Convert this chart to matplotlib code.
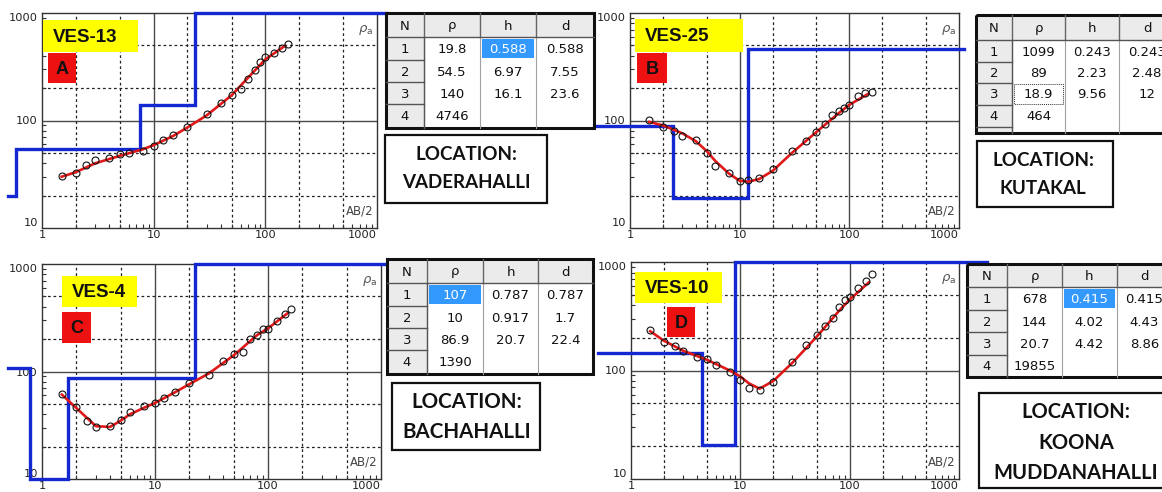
import numpy as np
import matplotlib
matplotlib.use('Agg')
import matplotlib.pyplot as plt
from matplotlib.patches import Rectangle
from matplotlib.ticker import LogLocator, NullFormatter

# ---- observed apparent resistivity (AB/2 in m, rho_a in ohm-m) ----
ab2_obs = [1.5, 2, 2.5, 3, 4, 5, 6, 8, 10, 12, 15, 20, 30, 40, 50, 60, 70, 80, 90, 100, 120, 140, 160]

rho_obs_a = [30.5, 32.8, 38.5, 42.6, 45, 48.9, 49.5, 52.5, 58, 66, 73.8, 86.5, 115.5, 144.7,
             173, 196, 244, 298, 350, 390, 428, 468, 510]
rho_obs_b = [100.7, 87, 79.5, 71, 66, 49.5, 38, 32.8, 27.4, 28.2, 29.4, 35.3, 52.5, 64.7,
             78, 93, 112, 122.5, 132, 140, 170, 179, 186]
rho_obs_c = [61.6, 46.4, 35, 30.2, 30.8, 35.6, 41.6, 47.3, 50.8, 56.5, 65, 78, 93, 125.6,
             146, 153, 200, 219, 247, 250, 295, 341, 379]
rho_obs_d = [234, 183, 168, 152, 133, 129, 113, 96, 82.6, 68.7, 66.7, 78.3, 120, 170,
             212, 259, 307, 383, 444, 478, 575, 667, 783]

# ---- fitted curves ----
ab2_fit_a = [1.5, 2, 3, 5, 8, 10, 15, 20, 30, 50, 80, 100, 150]
rho_fit_a = [30, 33, 40, 47, 54, 59, 72, 86, 112, 172, 290, 370, 495]
ab2_fit_b = [1.5, 2, 3, 4, 5, 6, 8, 10, 12, 15, 20, 30, 50, 80, 100, 150]
rho_fit_b = [97, 90, 76, 64, 52, 42, 32, 27.5, 27, 28.5, 34, 50, 78, 117, 140, 178]
ab2_fit_c = [1.5, 2, 2.5, 3, 4, 5, 6, 8, 10, 15, 20, 30, 50, 80, 100, 150]
rho_fit_c = [61, 46, 37, 31, 30.5, 35, 40, 46, 51, 64, 76, 96, 142, 218, 252, 350]
ab2_fit_d = [1.5, 2, 3, 5, 8, 10, 12, 15, 20, 30, 50, 80, 100, 150]
rho_fit_d = [230, 188, 152, 125, 100, 88, 76, 68, 80, 118, 205, 355, 450, 650]

# ---- layer models (rho, thickness h, depth d) ----
rho_a = [19.8, 54.5, 140, 4746]
h_a = [0.588, 6.97, 16.1]
d_a = [0.588, 7.55, 23.6]
rho_b = [1099, 89, 18.9, 464]
h_b = [0.243, 2.23, 9.56]
d_b = [0.243, 2.48, 12]
rho_c = [107, 10, 86.9, 1390]
h_c = [0.787, 0.917, 20.7]
d_c = [0.787, 1.7, 22.4]
rho_d = [678, 144, 20.7, 19855]
h_d = [0.415, 4.02, 4.42]
d_d = [0.415, 4.43, 8.86]

ves_names = ['VES-13', 'VES-25', 'VES-4', 'VES-10']
panel_letters = ['A', 'B', 'C', 'D']
locations = [['LOCATION:', 'VADERAHALLI'], ['LOCATION:', 'KUTAKAL'],
             ['LOCATION:', 'BACHAHALLI'], ['LOCATION:', 'KOONA', 'MUDDANAHALLI']]

W, H = 1162, 492
fig = plt.figure(figsize=(W / 100, H / 100), dpi=100)
fig.patch.set_facecolor('white')


def frac(x0, y0, x1, y1):
    return [x0 / W, 1 - y1 / H, (x1 - x0) / W, (y1 - y0) / H]


BLUE = '#1428d2'
RED = '#e01818'


def draw_panel(ax, obs, fx, fy, rho, d, x_end):
    ax.set_xscale('log')
    ax.set_yscale('log')
    ax.set_xlim(1, 1000)
    ax.set_ylim(10, 1000)
    for v in [10, 100]:
        ax.axvline(v, color='#4a4a4a', lw=1, zorder=1)
    ax.axhline(100, color='#4a4a4a', lw=1, zorder=1)
    for v in [2, 5, 20, 50, 200, 500]:
        ax.axvline(v, color='#222222', lw=0.9, ls=(0, (2.2, 2.2)), zorder=1)
    for v in [20, 50, 200, 500]:
        ax.axhline(v, color='#222222', lw=0.9, ls=(0, (2.2, 2.2)), zorder=1)

    # layered model as a step line
    bounds = [0.5] + [z for z in d if z > 0.5] + [x_end]
    vals = [rho[np.searchsorted(d, b, side='right')] for b in bounds[:-1]]
    xs = np.repeat(bounds, 2)[1:-1]
    ys = np.repeat(np.clip(vals, 10, 1000), 2)
    ax.plot(xs, ys, color=BLUE, lw=2.4, clip_on=False, zorder=3, solid_joinstyle='miter')

    ax.plot(fx, fy, color=RED, lw=1.9, zorder=4)
    ax.plot(ab2_obs, obs, 'o', mfc='none', mec='#111111', ms=5, mew=0.8, zorder=5)

    ax.set_xticks([1, 10, 100, 1000])
    ax.set_xticklabels(['1', '10', '100', '1000'])
    ax.set_yticks([10, 100, 1000])
    ax.set_yticklabels(['10', '100', '1000'])
    ax.xaxis.set_minor_locator(LogLocator(base=10, subs=range(2, 10)))
    ax.yaxis.set_minor_locator(LogLocator(base=10, subs=range(2, 10)))
    ax.xaxis.set_minor_formatter(NullFormatter())
    ax.yaxis.set_minor_formatter(NullFormatter())
    ax.tick_params(which='major', length=0, labelsize=8.2, labelcolor='#222222', pad=3)
    ax.tick_params(axis='x', which='major', pad=1.5)
    ax.tick_params(which='minor', direction='in', length=3, width=0.8, color='#333333')
    ax.get_xticklabels()[-1].set_ha('right')
    ax.get_yticklabels()[0].set_va('bottom')
    ax.get_yticklabels()[-1].set_va('top')
    for s in ax.spines.values():
        s.set_color('#333333')
        s.set_linewidth(1)
    ax.text(0.99, 0.955, r'$\rho_{\mathrm{a}}$', transform=ax.transAxes, ha='right', va='top',
            fontsize=9.5, color='#555555')
    ax.text(0.99, 0.05, 'AB/2', transform=ax.transAxes, ha='right', va='bottom',
            fontsize=8.5, color='#444444')


panels = [
    (frac(42, 13, 377, 228), rho_obs_a, ab2_fit_a, rho_fit_a, rho_a, d_a, 1230),
    (frac(630, 13, 959, 228), rho_obs_b, ab2_fit_b, rho_fit_b, rho_b, d_b, 1100),
    (frac(42, 264, 381, 479), rho_obs_c, ab2_fit_c, rho_fit_c, rho_c, d_c, 1100),
    (frac(631, 262, 959, 479), rho_obs_d, ab2_fit_d, rho_fit_d, rho_d, d_d, 1800),
]
for rect, obs, fx, fy, rho, d, xe in panels:
    ax = fig.add_axes(rect)
    draw_panel(ax, obs, fx, fy, rho, d, xe)

# ---- overlay in pixel coordinates ----
ov = fig.add_axes([0, 0, 1, 1], zorder=10)
ov.set_xlim(0, W)
ov.set_ylim(H, 0)
ov.axis('off')
ov.patch.set_alpha(0)

ves_boxes = [(43, 20, 138, 52), (635, 19, 743, 52), (62, 276, 137, 307), (635, 272, 722, 303)]
letter_boxes = [(48, 53, 76, 83), (637, 53, 667, 83), (62, 312, 91, 343), (667, 307, 695, 337)]
for (x0, y0, x1, y1), name in zip(ves_boxes, ves_names):
    ov.add_patch(Rectangle((x0, y0), x1 - x0, y1 - y0, fc='#ffff00', ec='none'))
    ov.text(x0 + 10, (y0 + y1) / 2 + 1, name, ha='left', va='center', fontsize=13.5,
            fontweight='bold', family='Liberation Sans', color='#111111')
for (x0, y0, x1, y1), let in zip(letter_boxes, panel_letters):
    ov.add_patch(Rectangle((x0, y0), x1 - x0, y1 - y0, fc='#ee1111', ec='none'))
    ov.text((x0 + x1) / 2, (y0 + y1) / 2 + 1, let, ha='center', va='center', fontsize=13,
            fontweight='bold', family='Liberation Sans', color='#111111')


def draw_table(cols, rows, rho, h, d, hl=None, focus=None):
    x0, x1 = cols[0], cols[-1]
    y0, y1 = rows[0], rows[-1]
    ov.add_patch(Rectangle((x0, y0), x1 - x0, y1 - y0, fc='white', ec='none'))
    ov.add_patch(Rectangle((x0, y0), x1 - x0, rows[1] - y0, fc='#ebebeb', ec='none'))
    ov.add_patch(Rectangle((x0, rows[1]), cols[1] - x0, y1 - rows[1], fc='#ebebeb', ec='none'))
    for c in cols[1:-1]:
        ov.plot([c, c], [y0, rows[1]], color='#666666', lw=1)
        ov.plot([c, c], [rows[1], y1], color='#a0a0a0', lw=0.8)
    ov.plot([x0, x1], [rows[1], rows[1]], color='#555555', lw=1)
    for r in rows[2:-1]:
        ov.plot([x0, cols[1]], [r, r], color='#555555', lw=1)
    ov.plot([cols[1], cols[1]], [rows[1], y1], color='#555555', lw=1)

    heads = ['N', 'ρ', 'h', 'd']
    for j, t in enumerate(heads):
        ov.text((cols[j] + cols[j + 1]) / 2, (rows[0] + rows[1]) / 2 + 1, t, ha='center',
                va='center', fontsize=9.5, color='#111111')
    cells = []
    for i in range(len(rho)):
        cells.append([str(i + 1), f'{rho[i]:g}',
                      f'{h[i]:g}' if i < len(h) else '', f'{d[i]:g}' if i < len(d) else ''])
    for i, row in enumerate(cells):
        yc = (rows[i + 1] + rows[i + 2]) / 2 + 1
        for j, t in enumerate(row):
            xc = (cols[j] + cols[j + 1]) / 2
            col = '#111111'
            if hl == (i, j):
                ov.add_patch(Rectangle((cols[j] + 2, rows[i + 1] + 2), cols[j + 1] - cols[j] - 4,
                                       rows[i + 2] - rows[i + 1] - 4, fc='#3399ff', ec='none'))
                col = 'white'
            if focus == (i, j):
                ov.add_patch(Rectangle((cols[j] + 2, rows[i + 1] + 1), cols[j + 1] - cols[j] - 4,
                                       rows[i + 2] - rows[i + 1] - 2, fc='none', ec='#333333',
                                       lw=0.7, ls=(0, (1, 1))))
            ov.text(xc, yc, t, ha='center', va='center', fontsize=9.5, color=col)
    ov.add_patch(Rectangle((x0, y0), x1 - x0, y1 - y0, fc='none', ec='#111111', lw=2.2))


draw_table([386, 424, 480, 536, 594], [13, 37, 60, 82, 104, 128], rho_a, h_a, d_a, hl=(0, 2))
draw_table([976, 1012, 1065, 1119, 1175], [15, 40, 62, 83, 105, 127, 133], rho_b, h_b, d_b,
           focus=(2, 1))
draw_table([387, 427, 483, 538, 593], [259, 283, 306, 328, 350, 374], rho_c, h_c, d_c, hl=(0, 1))
draw_table([967, 1007, 1062, 1117, 1172], [264, 287, 310, 332, 355, 377], rho_d, h_d, d_d,
           hl=(0, 2))

loc_boxes = [(385, 135, 547, 203), (977, 141, 1113, 207), (392, 383, 540, 450), (979, 393, 1180, 488)]
loc_lines_y = [[155, 183], [160, 188], [402, 432], [412, 443, 473]]
loc_x = [466, 1043, 467, 1076]
loc_size = [13.5, 13.5, 14.8, 14.5]
for box, lines, ly, lx, fs in zip(loc_boxes, locations, loc_lines_y, loc_x, loc_size):
    x0, y0, x1, y1 = box
    ov.add_patch(Rectangle((x0, y0), x1 - x0, y1 - y0, fc='white', ec='#111111', lw=1.6))
    for t, y in zip(lines, ly):
        ov.text(lx, y, t, ha='center', va='center', fontsize=fs, fontweight='bold',
                family='Lato', color='#111111')

fig.savefig('out.png', dpi=100)
